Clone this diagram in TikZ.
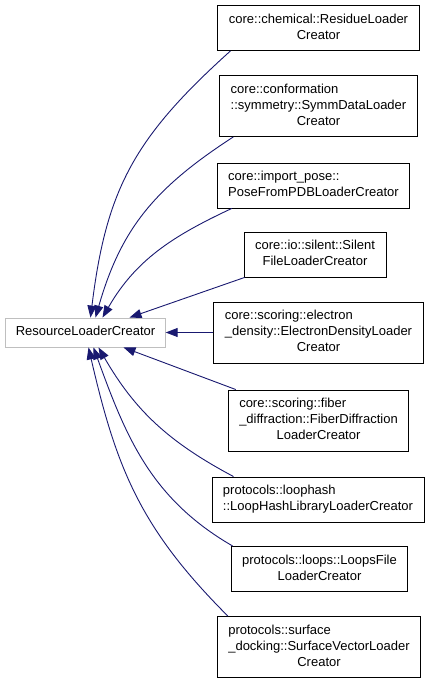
\documentclass[tikz,border=0pt]{standalone}
\usepackage{fontspec}
\setmainfont{Liberation Sans}
\usetikzlibrary{arrows.meta}

\definecolor{edgeblue}{HTML}{191970}
\definecolor{rootgray}{HTML}{BFBFBF}

% left-aligned lines, last line centred
\newcommand{\twoline}[2]{\begin{tabular}{@{}l@{}}#1\\\multicolumn{1}{@{}c@{}}{#2}\end{tabular}}
\newcommand{\threeline}[3]{\begin{tabular}{@{}l@{}}#1\\#2\\\multicolumn{1}{@{}c@{}}{#3}\end{tabular}}

\tikzset{
  cls/.style={draw=black, line width=0.9pt, fill=white, inner xsep=11pt, inner ysep=6.5pt,
    font=\fontsize{13}{16}\selectfont},
  rootcls/.style={cls, draw=rootgray, inner xsep=10pt},
  dep/.style={draw=edgeblue, line width=0.9pt, -{Triangle[length=12pt,width=9pt]}},
}

\begin{document}
\begin{tikzpicture}[x=1pt,y=1pt]
    \useasboundingbox (0,0) rectangle (429,-685);

    % Define the positions of the nodes
    \node[rootcls] (root) at (85.5,-332.5) {\strut ResourceLoaderCreator};

    \node[cls] (chem) at (318.5,-28) {\twoline{core::chemical::ResidueLoader}{Creator}};
    \node[cls] (symm) at (318.5,-106) {\threeline{core::conformation}{::symmetry::SymmDataLoader}{Creator}};
    \node[cls] (pose) at (313.5,-185.5) {\twoline{core::import\_pose::}{PoseFromPDBLoaderCreator}};
    \node[cls] (silent) at (315,-254.5) {\twoline{core::io::silent::Silent}{FileLoaderCreator}};
    \node[cls] (edens) at (318.5,-332.5) {\threeline{core::scoring::electron}{\_density::ElectronDensityLoader}{Creator}};
    \node[cls] (fiber) at (318.5,-420.5) {\threeline{core::scoring::fiber}{\_diffraction::FiberDiffraction}{LoaderCreator}};
    \node[cls] (lhash) at (318,-499.5) {\twoline{protocols::loophash}{::LoopHashLibraryLoaderCreator}};
    \node[cls] (loops) at (319.5,-569) {\twoline{protocols::loops::LoopsFile}{LoaderCreator}};
    \node[cls] (surf) at (319,-647) {\threeline{protocols::surface}{\_docking::SurfaceVectorLoader}{Creator}};

    % Draw the edges
    \draw[dep] ([xshift=13pt]chem.south west) to[out=222,in=83,looseness=1.1] ([xshift=5pt]root.north);
    \draw[dep] ([xshift=14pt]symm.south west) to[out=213,in=74,looseness=1.05] ([xshift=10pt]root.north);
    \draw[dep] ([xshift=15pt]pose.south west) to[out=205,in=60] ([xshift=17pt]root.north);
    \draw[dep] ([xshift=1pt]silent.south west) -- ([xshift=44pt]root.north);
    \draw[dep] (edens.west) -- (root.east);
    \draw[dep] ([xshift=8pt]fiber.north west) -- ([xshift=38pt]root.south);
    \draw[dep] ([xshift=22pt]lhash.north west) to[out=152,in=-60] ([xshift=13pt]root.south);
    \draw[dep] ([xshift=2pt]loops.north west) to[out=150,in=-70] ([xshift=8pt]root.south);
    \draw[dep] ([xshift=11pt]surf.north west) to[out=135,in=-77,looseness=1.05] ([xshift=3pt]root.south);
\end{tikzpicture}
\end{document}
